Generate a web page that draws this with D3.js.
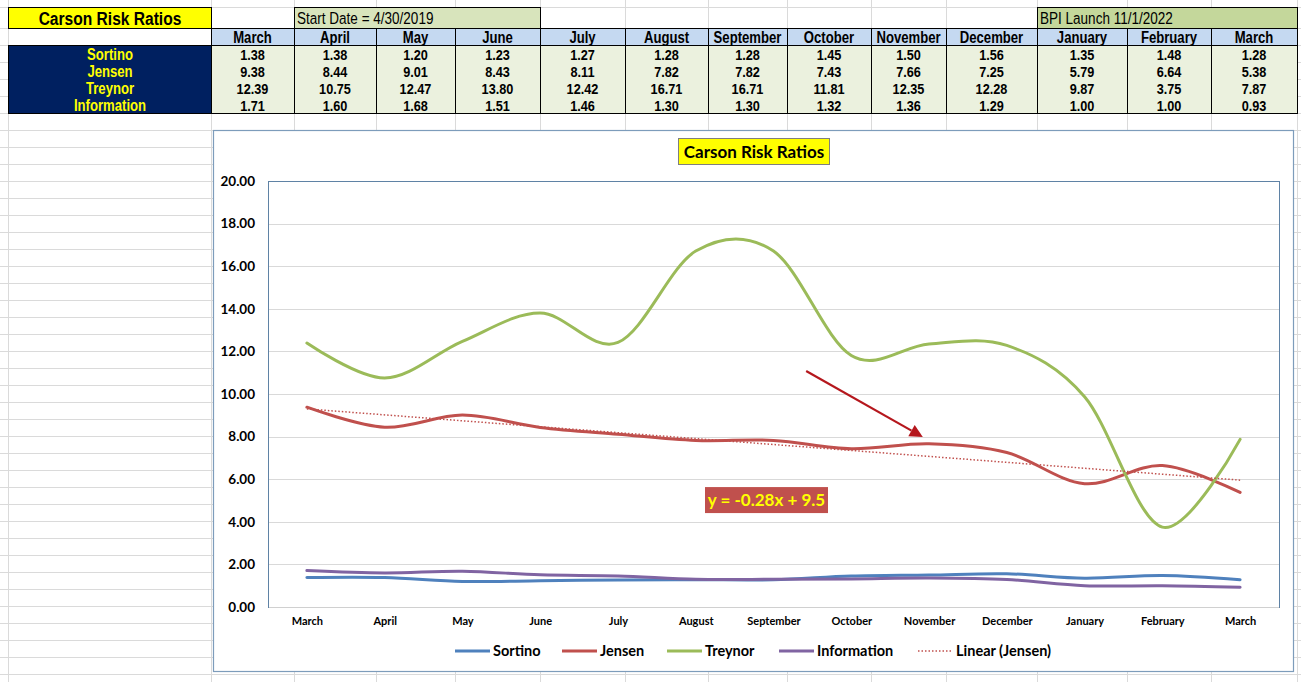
<!DOCTYPE html>
<html>
<head>
<meta charset="utf-8">
<script src="https://cdn.jsdelivr.net/npm/d3@7"></script>
<style>
  html, body { margin: 0; padding: 0; background: #fff; }
  svg { display: block; }
</style>
</head>
<body>
<svg id="chart" width="1301" height="682"></svg>
<script>
// ---------------- data ----------------
const months = ["March","April","May","June","July","August","September","October","November","December","January","February","March"];
const sortino = [1.38,1.38,1.20,1.23,1.27,1.28,1.28,1.45,1.50,1.56,1.35,1.48,1.28];
const jensen = [9.38,8.44,9.01,8.43,8.11,7.82,7.82,7.43,7.66,7.25,5.79,6.64,5.38];
const treynor = [12.39,10.75,12.47,13.80,12.42,16.71,16.71,11.81,12.35,12.28,9.87,3.75,7.87];
const information = [1.71,1.60,1.68,1.51,1.46,1.30,1.30,1.32,1.36,1.29,1.00,1.00,0.93];
const seriesNames = ["Sortino","Jensen","Treynor","Information"];
const yTickValues = [0,2,4,6,8,10,12,14,16,18,20];
const tableTitle = "Carson Risk Ratios";
const chartTitle = "Carson Risk Ratios";
const startNote = "Start Date = 4/30/2019";
const launchNote = "BPI Launch 11/1/2022";
const trendLabel = "Linear (Jensen)";
const equationLabel = "y = -0.28x + 9.5";
// annotation anchors in data units (category index, value)
const arrowFrom = [6.42, 11.08];
const arrowTo = [7.92, 7.98];
const eqAnchor = [5.91, 5.02];

const seriesValues = [sortino, jensen, treynor, information];
const colors = ["#4f81bd","#c0504d","#9bbb59","#8064a2"];

const svg = d3.select("#chart");
const NARROW = "'Liberation Sans', Arial, sans-serif";
const SQ = 0.82; // horizontal squeeze to imitate Arial Narrow

function narrowText(g, x, y, str, opts) {
  const o = Object.assign({size: 15, weight: "bold", fill: "#000", anchor: "middle"}, opts || {});
  return g.append("text")
    .attr("transform", `translate(${x},${y}) scale(${SQ},1)`)
    .attr("dy", "0.36em").attr("text-anchor", o.anchor)
    .style("font-family", NARROW).attr("font-size", o.size).attr("font-weight", o.weight)
    .attr("fill", o.fill).text(str);
}

// ---------------- spreadsheet background ----------------
const colEdges = [8, 211, 294, 376, 455, 540, 625, 708, 787, 871, 946, 1037, 1127, 1211, 1297];
const rowEdges = [7, 28, 45, 62, 79, 96, 113];
for (let y = 130; y <= 682; y += 17) rowEdges.push(y);
const grid = svg.append("g").attr("stroke", "#dadada").attr("stroke-width", 1);
colEdges.forEach(x => grid.append("line").attr("x1", x + 0.5).attr("x2", x + 0.5).attr("y1", 0).attr("y2", 682));
rowEdges.forEach(y => grid.append("line").attr("x1", 0).attr("x2", 1301).attr("y1", y + 0.5).attr("y2", y + 0.5));

// ---------------- table ----------------
const tbl = svg.append("g");
tbl.append("rect").attr("x", 8.5).attr("y", 7.5).attr("width", 203).attr("height", 21)
  .attr("fill", "#ffff00").attr("stroke", "#000").attr("stroke-width", 1);
narrowText(tbl, 110, 18, tableTitle, {size: 19});
tbl.append("rect").attr("x", colEdges[2] + 0.5).attr("y", 7.5).attr("width", colEdges[5] - colEdges[2]).attr("height", 21)
  .attr("fill", "#d8e4bc").attr("stroke", "#000");
narrowText(tbl, colEdges[2] + 3, 18, startNote, {weight: "normal", anchor: "start", size: 16.5});
tbl.append("rect").attr("x", colEdges[11] + 0.5).attr("y", 7.5).attr("width", colEdges[14] - colEdges[11]).attr("height", 21)
  .attr("fill", "#c4d79b").attr("stroke", "#000");
narrowText(tbl, colEdges[11] + 3, 18, launchNote, {weight: "normal", anchor: "start", size: 16.5});
tbl.append("rect").attr("x", colEdges[1] + 0.5).attr("y", 28.5).attr("width", colEdges[14] - colEdges[1]).attr("height", 17)
  .attr("fill", "#c5d9f1").attr("stroke", "#000");
months.forEach((m, i) => {
  narrowText(tbl, (colEdges[i + 1] + colEdges[i + 2]) / 2, 37, m, {size: 16});
});
tbl.append("rect").attr("x", 8.5).attr("y", 45.5).attr("width", 203).attr("height", 68)
  .attr("fill", "#002060").attr("stroke", "#000");
seriesNames.forEach((nm, r) => narrowText(tbl, 110, 54 + r * 17, nm, {fill: "#ffff00", size: 16}));
tbl.append("rect").attr("x", colEdges[1] + 0.5).attr("y", 45.5).attr("width", colEdges[14] - colEdges[1]).attr("height", 68)
  .attr("fill", "#ebf1de").attr("stroke", "#000");
for (let i = 1; i < 14; i++) {
  tbl.append("line").attr("x1", colEdges[i + 1] + 0.5).attr("x2", colEdges[i + 1] + 0.5)
    .attr("y1", 28).attr("y2", 113.5).attr("stroke", "#000");
}
seriesValues.forEach((vals, r) => {
  vals.forEach((v, i) => narrowText(tbl, (colEdges[i + 1] + colEdges[i + 2]) / 2, 54 + r * 17, d3.format(".2f")(v), {size: 15.5}));
});

// ---------------- chart ----------------
const box = {x: 213.5, y: 130.5, w: 1080, h: 541};
const plot = {l: 268, r: 1279, t: 181, b: 607};
svg.append("rect").attr("x", box.x).attr("y", box.y).attr("width", box.w).attr("height", box.h)
  .attr("fill", "#fff").attr("stroke", "#7d9cbb").attr("stroke-width", 1.2);

const x = d3.scalePoint().domain(d3.range(months.length)).range([plot.l, plot.r]).padding(0.5);
const y = d3.scaleLinear().domain([0, 20]).range([plot.b, plot.t]);

svg.append("g").selectAll("line").data(yTickValues.filter(v => v > 0)).join("line")
  .attr("x1", plot.l).attr("x2", plot.r)
  .attr("y1", d => Math.round(y(d)) + 0.5).attr("y2", d => Math.round(y(d)) + 0.5)
  .attr("stroke", "#d9d9d9").attr("stroke-width", 1);

svg.append("rect").attr("x", plot.l + 0.5).attr("y", plot.t + 0.5).attr("width", plot.r - plot.l).attr("height", plot.b - plot.t)
  .attr("fill", "none").attr("stroke", "#5f82a5").attr("stroke-width", 1);
svg.append("line").attr("x1", plot.l + 1).attr("x2", plot.r).attr("y1", plot.b + 0.5).attr("y2", plot.b + 0.5)
  .attr("stroke", "#d0d0d0");

const yAxis = d3.axisLeft(y).tickValues(yTickValues).tickFormat(d3.format(".2f")).tickSize(0).tickPadding(13);
const yg = svg.append("g").attr("transform", `translate(${plot.l},0)`).call(yAxis);
yg.select(".domain").remove();
yg.selectAll("text").attr("font-size", 13.5).attr("font-weight", "bold").attr("fill", "#000")
  .style("font-family", "Lato, sans-serif");

const xAxis = d3.axisBottom(x).tickFormat(i => months[i]).tickSize(0).tickPadding(10);
const xg = svg.append("g").attr("transform", `translate(0,${plot.b})`).call(xAxis);
xg.select(".domain").remove();
xg.selectAll("text").attr("font-size", 11).attr("font-weight", "bold").attr("fill", "#000")
  .style("font-family", "Lato, sans-serif");

const line = d3.line().x((d, i) => x(i)).y(d => y(d)).curve(d3.curveCatmullRom.alpha(0));
seriesValues.forEach((vals, s) => {
  svg.append("path").datum(vals).attr("d", line).attr("fill", "none")
    .attr("stroke", colors[s]).attr("stroke-width", 3).attr("stroke-linecap", "round").attr("stroke-linejoin", "round");
});

// linear trendline of Jensen (least squares, x = 1..n)
const n = jensen.length;
const xs = d3.range(1, n + 1);
const mx = d3.mean(xs), my = d3.mean(jensen);
const slope = d3.sum(xs, (xv, k) => (xv - mx) * (jensen[k] - my)) / d3.sum(xs, xv => (xv - mx) ** 2);
const intercept = my - slope * mx;
const trendPts = [0, n - 1].map(i => [x(i), y(intercept + slope * (i + 1))]);
svg.append("path").attr("d", d3.line()(trendPts)).attr("fill", "none")
  .attr("stroke", "#c0504d").attr("stroke-width", 1.5).attr("stroke-dasharray", "1.5,2");

// arrow annotation
const xi = d3.scaleLinear().domain([0, n - 1]).range([x(0), x(n - 1)]);
const ax0 = xi(arrowFrom[0]), ay0 = y(arrowFrom[1]);
const ax1 = xi(arrowTo[0]), ay1 = y(arrowTo[1]);
const ang = Math.atan2(ay1 - ay0, ax1 - ax0);
const headLen = 13, headW = 6.5;
const bx = ax1 - headLen * Math.cos(ang), by = ay1 - headLen * Math.sin(ang);
svg.append("line").attr("x1", ax0).attr("y1", ay0).attr("x2", bx).attr("y2", by)
  .attr("stroke", "#b5171d").attr("stroke-width", 2.2);
svg.append("path").attr("d", d3.line()([
  [ax1, ay1],
  [bx + headW * Math.sin(ang), by - headW * Math.cos(ang)],
  [bx - headW * Math.sin(ang), by + headW * Math.cos(ang)]
])).attr("fill", "#b5171d");

// equation label
const ex = xi(eqAnchor[0]), ey = y(eqAnchor[1]);
svg.append("rect").attr("x", ex - 61.5).attr("y", ey - 13).attr("width", 123).attr("height", 26).attr("fill", "#c0504d");
svg.append("text").attr("x", ex).attr("y", ey).attr("dy", "0.36em").attr("text-anchor", "middle")
  .style("font-family", "Lato, sans-serif").attr("font-size", 17).attr("font-weight", "bold")
  .attr("fill", "#ffff00").text(equationLabel);

// chart title
svg.append("rect").attr("x", 678.5).attr("y", 138.5).attr("width", 151).attr("height", 26)
  .attr("fill", "#ffff00").attr("stroke", "#7f7f7f");
svg.append("text").attr("x", 754).attr("y", 152).attr("dy", "0.36em").attr("text-anchor", "middle")
  .style("font-family", "Lato, sans-serif").attr("font-size", 17).attr("font-weight", "bold").text(chartTitle);

// legend
const legendItems = [
  {name: seriesNames[0], color: colors[0], x: 455, dash: null},
  {name: seriesNames[1], color: colors[1], x: 562, dash: null},
  {name: seriesNames[2], color: colors[2], x: 667, dash: null},
  {name: seriesNames[3], color: colors[3], x: 779, dash: null},
  {name: trendLabel, color: colors[1], x: 918, dash: "1.5,2"}
];
const lg = svg.append("g");
legendItems.forEach(it => {
  lg.append("line").attr("x1", it.x).attr("x2", it.x + 35).attr("y1", 651).attr("y2", 651)
    .attr("stroke", it.color).attr("stroke-width", it.dash ? 1.5 : 3).attr("stroke-dasharray", it.dash);
  lg.append("text").attr("x", it.x + 38).attr("y", 651).attr("dy", "0.36em")
    .style("font-family", "Lato, sans-serif").attr("font-size", 14.5).attr("font-weight", "bold").text(it.name);
});
</script>
</body>
</html>
